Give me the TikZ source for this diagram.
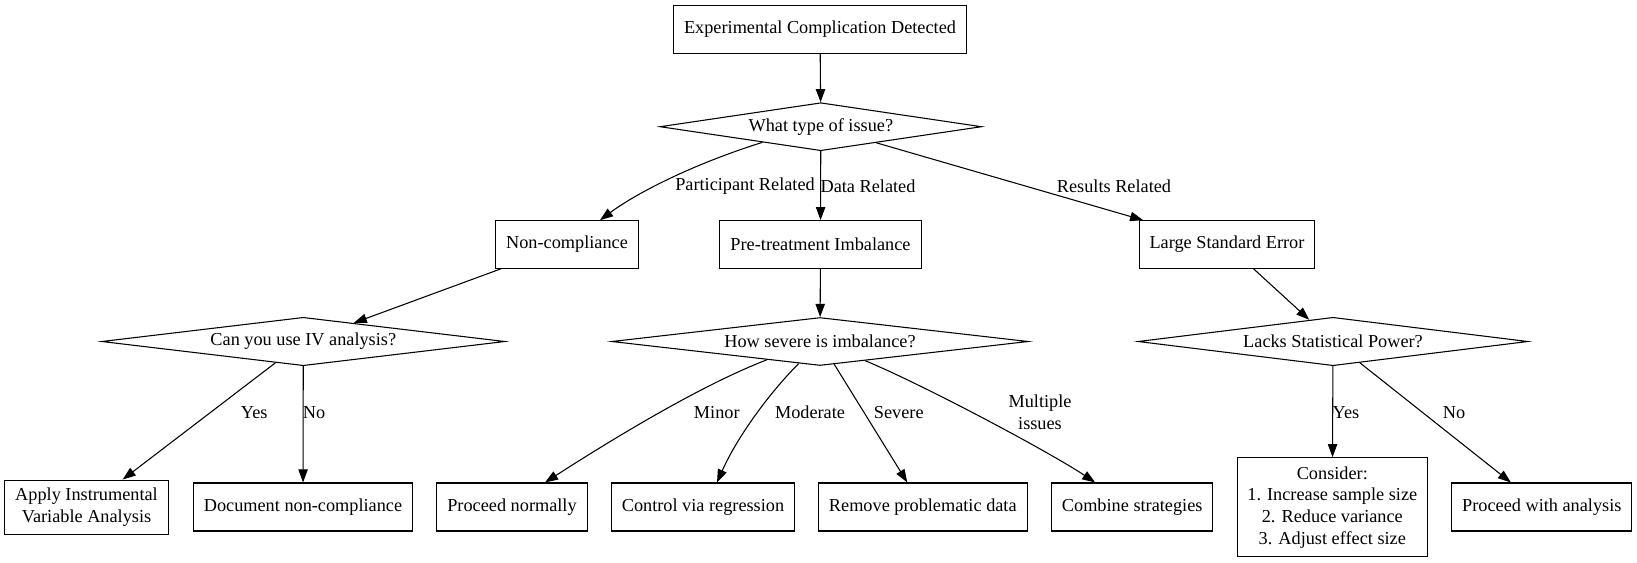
\documentclass[tikz,border=0pt]{standalone}
\usepackage{fontspec}
\setmainfont{Liberation Serif}
\usetikzlibrary{shapes.geometric,arrows.meta,calc}
\begin{document}
\begin{tikzpicture}[x=0.75pt,y=-0.75pt,
  every node/.style={font=\fontsize{13.7pt}{16.3pt}\selectfont, inner sep=0pt, align=center},
  box/.style={draw, rectangle, line width=0.8pt},
  dec/.style={draw, diamond, aspect=8, line width=0.8pt},
  edge/.style={line width=0.8pt, -{Triangle[length=9.8pt,width=7pt]}}]
\useasboundingbox[fill=white] (0,0) rectangle (1637,562);
% nodes
\node[box, minimum width=219.75pt, minimum height=36.2pt] (top) at (820,29.2) {Experimental Complication Detected};
\node[dec, minimum width=241.3pt, minimum height=36pt] (d1) at (820.8,126.7) {What type of issue?};
\node[box, minimum width=106.95pt, minimum height=35.7pt] (nc) at (567,244.5) {Non-compliance};
\node[box, minimum width=151.8pt, minimum height=35.7pt] (pt) at (820.5,244.5) {Pre-treatment Imbalance};
\node[box, minimum width=131.55pt, minimum height=35.7pt] (lse) at (1227,244.5) {Large Standard Error};
\node[dec, minimum width=302.5pt, minimum height=36.3pt] (iv) at (303.3,341.5) {Can you use IV analysis?};
\node[dec, minimum width=312.5pt, minimum height=36pt] (d3) at (820,341.5) {How severe is imbalance?};
\node[dec, minimum width=292.5pt, minimum height=36.3pt] (d4) at (1333,341.5) {Lacks Statistical Power?};
\node[box, minimum width=122.7pt, minimum height=40.7pt] (apply) at (86.5,507.2) {Apply Instrumental\\Variable Analysis};
\node[box, minimum width=164.55pt, minimum height=36pt] (doc) at (303,507) {Document non-compliance};
\node[box, minimum width=112.95pt, minimum height=36pt] (pn) at (512,507) {Proceed normally};
\node[box, minimum width=136.95pt, minimum height=36pt] (cvr) at (703,507) {Control via regression};
\node[box, minimum width=156.75pt, minimum height=36pt] (rpd) at (922.8,507) {Remove problematic data};
\node[box, minimum width=120.75pt, minimum height=36pt] (cs) at (1132.2,507) {Combine strategies};
\node[box, minimum width=142.5pt, minimum height=74.25pt] (con) at (1332.3,507.2) {Consider:\\1. Increase sample size\\2. Reduce variance\\3. Adjust effect size};
\node[box, minimum width=135.2pt, minimum height=36pt] (pwa) at (1541.8,507) {Proceed with analysis};
% edges
\draw[edge] (top) -- (d1);
\draw[edge] (d1.195) .. controls +(-73,23) and +(35,-26) .. ($(nc.north)+(33,0)$);
\draw[edge] (d1) -- (pt);
\draw[edge] (d1) -- (lse);
\draw[edge] (nc) -- (iv);
\draw[edge] (pt) -- (d3);
\draw[edge] (lse) -- (d4);
\draw[edge] (iv) -- (apply);
\draw[edge] (iv) -- (doc);
\draw[edge] (d3.199) .. controls +(-65,25) and +(70,-45) .. ($(pn.north)+(33,0)$);
\draw[edge] (d3.226) .. controls +(-30,30) and +(20,-45) .. ($(cvr.north)+(14,0)$);
\draw[edge] (d3.302) -- ($(rpd.north)+(-15.5,0)$);
\draw[edge] (d3.337) .. controls +(60,25) and +(-45,-30) .. ($(cs.north)+(-37,0)$);
\draw[edge] (d4) -- (con);
\draw[edge] (d4) -- (pwa);
% labels
\node (lpart) at (745,186.5) {Participant Related};
\node (ldata) at (868,186.5) {Data Related};
\node (lres) at (1114,186.5) {Results Related};
\node (lyes1) at (254.2,412.7) {Yes};
\node (lno1) at (314,412.7) {No};
\node (lminor) at (716.8,412.7) {Minor};
\node (lmod) at (810,412.7) {Moderate};
\node (lsev) at (898.8,412.7) {Severe};
\node (lmul) at (1040,412.5) {Multiple\\issues};
\node (lyes2) at (1346,412.7) {Yes};
\node (lno2) at (1454,412.7) {No};
\end{tikzpicture}
\end{document}
